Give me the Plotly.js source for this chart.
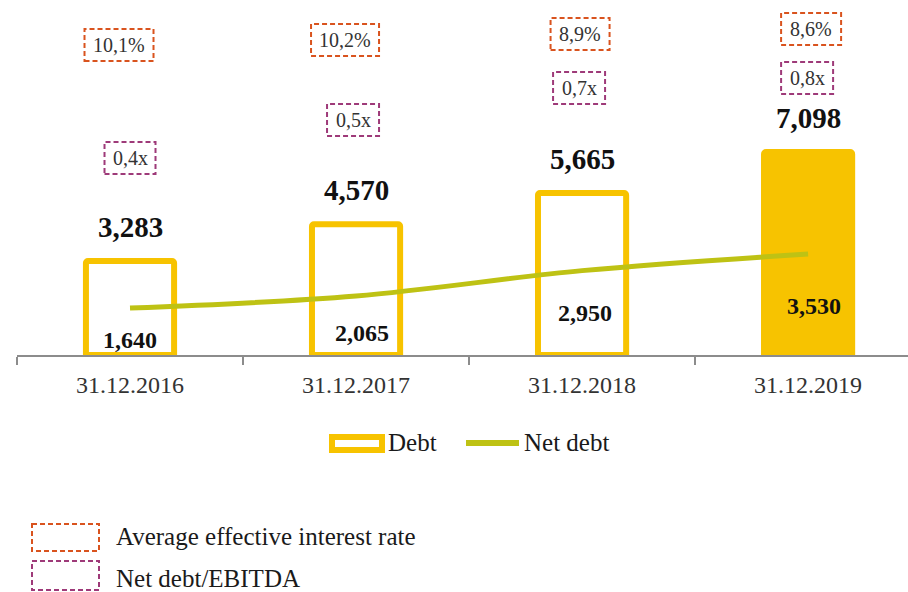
<!DOCTYPE html>
<html>
<head>
<meta charset="utf-8">
<script src="https://cdn.plot.ly/plotly-3.0.1.min.js"></script>
<style>html,body{margin:0;padding:0;background:#fff;}#chart{width:908px;height:592px;}</style>
</head>
<body>
<div id="chart"></div>
<script>
// ---- data ----
var categories = ['31.12.2016', '31.12.2017', '31.12.2018', '31.12.2019'];
var debt = [3283, 4570, 5665, 7098];
var netDebt = [1640, 2065, 2950, 3530];
var interestRate = ['10,1%', '10,2%', '8,9%', '8,6%'];
var netDebtEbitda = ['0,4x', '0,5x', '0,7x', '0,8x'];

// ---- style / placement ----
var GOLD = '#F7C300';
var OLIVE = '#BEC214';
var ORANGE = '#D9531E';
var PURPLE = '#9E3A79';
var FONT = 'Liberation Serif, Times New Roman, serif';
var BASE_PX = 355;      // pixel row of the x axis line
var LEFT_PX = 17;       // pixel column of plot left edge

var rateBoxY = [45, 40, 34, 29], rateBoxDx = [-11, -11, -2, 3], rateBoxW = [69, 68, 59, 60];
var ratioBoxY = [158, 120, 88, 78], ratioBoxDx = [0, -3, -3, -1], ratioBoxW = [51, 52, 52, 52];
var boxH = 32;
var netLabelShift = [15, 22, 42, 49], netLabelDx = [0, 6, 3, 6];

var fmt = function (v) { return v.toLocaleString('en-US'); };

var traces = [
  {
    type: 'bar', x: categories, y: debt, name: 'Debt', width: 0.39,
    marker: {
      color: categories.map(function (c, i) { return i === categories.length - 1 ? GOLD : '#ffffff'; }),
      line: {color: GOLD, width: 6}, cornerradius: 2
    },
    hoverinfo: 'x+y', showlegend: false
  },
  {
    type: 'scatter', mode: 'lines', x: categories, y: netDebt, name: 'Net debt',
    line: {color: OLIVE, width: 5, shape: 'spline', smoothing: 1},
    showlegend: false
  }
];

var annotations = [], shapes = [];

categories.forEach(function (c, i) {
  // debt value above bar
  annotations.push({
    xref: 'x', yref: 'y', x: i, y: debt[i], yanchor: 'bottom', yshift: 16,
    text: '<b>' + fmt(debt[i]) + '</b>', showarrow: false,
    font: {family: FONT, size: 29, color: '#111111'}
  });
  // net debt value inside bar
  annotations.push({
    xref: 'x', yref: 'y', x: i, y: 0, yanchor: 'middle', yshift: netLabelShift[i], xshift: netLabelDx[i],
    text: '<b>' + fmt(netDebt[i]) + '</b>', showarrow: false,
    font: {family: FONT, size: 24, color: '#111111'}
  });
  // interest rate box
  shapes.push({
    type: 'rect', xref: 'x', yref: 'paper', xsizemode: 'pixel', ysizemode: 'pixel',
    xanchor: i, yanchor: 1,
    x0: rateBoxDx[i] - rateBoxW[i] / 2, x1: rateBoxDx[i] + rateBoxW[i] / 2,
    y0: -(rateBoxY[i] + boxH / 2), y1: -(rateBoxY[i] - boxH / 2),
    line: {color: ORANGE, width: 2, dash: '5px,3px'}, fillcolor: 'rgba(0,0,0,0)'
  });
  annotations.push({
    xref: 'x', yref: 'paper', x: i, y: 1, xshift: rateBoxDx[i], yshift: -rateBoxY[i], yanchor: 'middle',
    text: interestRate[i], showarrow: false, font: {family: FONT, size: 20, color: '#333333'}
  });
  // net debt / EBITDA box
  shapes.push({
    type: 'rect', xref: 'x', yref: 'paper', xsizemode: 'pixel', ysizemode: 'pixel',
    xanchor: i, yanchor: 1,
    x0: ratioBoxDx[i] - ratioBoxW[i] / 2, x1: ratioBoxDx[i] + ratioBoxW[i] / 2,
    y0: -(ratioBoxY[i] + boxH / 2), y1: -(ratioBoxY[i] - boxH / 2),
    line: {color: PURPLE, width: 2, dash: '5px,3px'}, fillcolor: 'rgba(0,0,0,0)'
  });
  annotations.push({
    xref: 'x', yref: 'paper', x: i, y: 1, xshift: ratioBoxDx[i], yshift: -ratioBoxY[i], yanchor: 'middle',
    text: netDebtEbitda[i], showarrow: false, font: {family: FONT, size: 20, color: '#333333'}
  });
});

// ---- custom legends (pixel placement relative to plot bottom-left) ----
function pxShape(type, x0, y0, x1, y1, line, fill) {
  return {
    type: type, xref: 'paper', yref: 'paper', xsizemode: 'pixel', ysizemode: 'pixel',
    xanchor: 0, yanchor: 0,
    x0: x0 - LEFT_PX, x1: x1 - LEFT_PX, y0: BASE_PX - y0, y1: BASE_PX - y1,
    line: line, fillcolor: fill || 'rgba(0,0,0,0)'
  };
}
function pxText(text, x, y, size) {
  return {
    xref: 'paper', yref: 'paper', x: 0, y: 0, xshift: x - LEFT_PX, yshift: BASE_PX - y,
    xanchor: 'left', yanchor: 'middle', text: text, showarrow: false,
    font: {family: FONT, size: size, color: '#1a1a1a'}
  };
}
shapes.push(pxShape('rect', 332, 437, 382, 450, {color: GOLD, width: 6}, '#ffffff'));
annotations.push(pxText('Debt', 386, 442, 25));
shapes.push(pxShape('line', 466, 443, 519, 443, {color: OLIVE, width: 6}));
annotations.push(pxText('Net debt', 522, 442, 25));

shapes.push(pxShape('rect', 32, 524, 99, 551, {color: ORANGE, width: 2, dash: '5px,3px'}));
annotations.push(pxText('Average effective interest rate', 114, 536, 25));
shapes.push(pxShape('rect', 32, 561, 99, 590, {color: PURPLE, width: 2, dash: '5px,3px'}));
annotations.push(pxText('Net debt/EBITDA', 114, 578, 25));

var layout = {
  width: 908, height: 592,
  margin: {l: LEFT_PX, r: 0, t: 0, b: 592 - BASE_PX, pad: 0},
  paper_bgcolor: '#ffffff', plot_bgcolor: '#ffffff',
  showlegend: false,
  bargap: 0.6,
  xaxis: {
    type: 'category', range: [-0.5, 3.442], fixedrange: true,
    showline: true, linecolor: '#8c8c8c', linewidth: 1.5,
    ticks: 'outside', tickson: 'boundaries', ticklen: 8, tickcolor: '#8c8c8c', tickwidth: 1.5,
    ticklabelstandoff: 8,
    showgrid: false, zeroline: false,
    tickfont: {family: FONT, size: 24, color: '#333333'}
  },
  yaxis: {
    range: [0, BASE_PX / 0.0286], visible: false, fixedrange: true,
    showgrid: false, zeroline: false
  },
  annotations: annotations,
  shapes: shapes
};

Plotly.newPlot('chart', traces, layout, {displayModeBar: false, staticPlot: true});
</script>
</body>
</html>
